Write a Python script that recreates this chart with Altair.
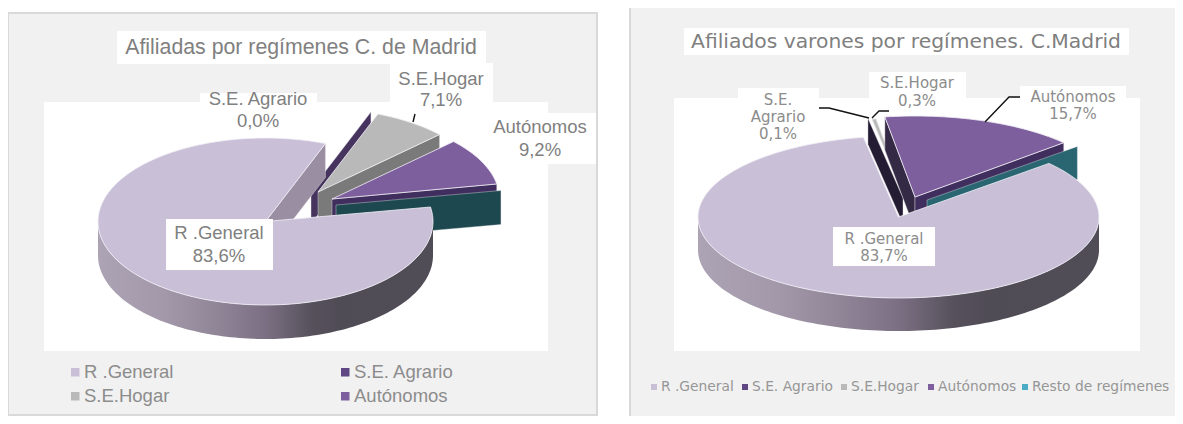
import math
import altair as alt

CATEGORIES = ["R .General", "S.E. Agrario", "S.E.Hogar", "Autónomos", "Resto de regímenes"]
PCT_AFILIADAS = [83.6, 0.0, 7.1, 9.2, 0.1]
PCT_VARONES = [83.7, 0.1, 0.3, 15.7, 0.2]
TITLE_L = "Afiliadas por regímenes C. de Madrid"
TITLE_R = "Afiliados varones por regímenes. C.Madrid"

OX, OY = 8, 8
W, H = 1167, 408
PROJ = dict(type="identity", scale=1, translate=[-OX, -OY])
GREY = "#808080"

layers = []


def shape(geometry, fill=None, stroke=None, sw=0.8):
    kw = {}
    if fill is not None:
        kw["fill"] = fill
    else:
        kw["filled"] = False
    if stroke is not None:
        kw["stroke"] = stroke
        kw["strokeWidth"] = sw
    c = alt.Chart(alt.Data(values=[{"type": "Feature", "properties": {}, "geometry": geometry}])).mark_geoshape(**kw).project(**PROJ)
    layers.append(c)


def poly(points, fill, stroke=None, sw=0.8):
    pts = [list(p) for p in points] + [list(points[0])]
    shape({"type": "Polygon", "coordinates": [pts]}, fill, stroke, sw)


def line(points, color="#111111", sw=1.4):
    shape({"type": "LineString", "coordinates": [list(p) for p in points]}, None, color, sw)


def rect(x0, y0, x1, y1, fill, stroke=None, sw=2):
    kw = {"fill": fill}
    if stroke:
        kw.update(stroke=stroke, strokeWidth=sw)
    layers.append(alt.Chart(alt.Data(values=[{"a": 1}])).mark_rect(**kw).encode(
        x=alt.value(x0 - OX), x2=alt.value(x1 - OX), y=alt.value(y0 - OY), y2=alt.value(y1 - OY)))


def text(lines, cx, ys, size, color=GREY, font="Liberation Sans", align="center"):
    for s, y in zip(lines, ys):
        layers.append(alt.Chart(alt.Data(values=[{"t": s}])).mark_text(
            font=font, fontSize=size, color=color, align=align, baseline="middle").encode(
            x=alt.value(cx - OX), y=alt.value(y - OY), text="t:N"))


def rim(apex, rx, ry, t):
    r = math.radians(t)
    return (apex[0] + rx * math.sin(r), apex[1] - ry * math.cos(r))


def arc(apex, rx, ry, t0, t1):
    n = max(2, int(abs(t1 - t0) / 1.5) + 1)
    return [rim(apex, rx, ry, t0 + (t1 - t0) * i / (n - 1)) for i in range(n)]


def top(apex, rx, ry, t0, t1, fill, stroke="#f2f0f6"):
    poly([apex] + arc(apex, rx, ry, t0, t1), fill, stroke)


def face(apex, rx, ry, t, d, fill):
    p = rim(apex, rx, ry, t)
    poly([apex, p, (p[0], p[1] + d), (apex[0], apex[1] + d)], fill, "#e8e6ec", 0.4)


def wall(apex, rx, ry, d, fill):
    a = arc(apex, rx, ry, 90, 270)
    poly(a + [(x, y + d) for x, y in reversed(a)], fill)


def angles(values, start):
    out, t = [], start
    for v in values:
        out.append((t, t + v * 3.6))
        t += v * 3.6
    return out


def pct(v):
    return f"{v:.1f}".replace(".", ",") + "%"


def gradient():
    stops = [(0, "#aca3b4"), (0.2, "#a298aa"), (0.36, "#8f8597"), (0.5, "#7b7083"),
             (0.64, "#56505b"), (0.72, "#504c56"), (1, "#514d57")]
    return {"gradient": "linear", "x1": 0, "y1": 0, "x2": 1, "y2": 0,
            "stops": [{"offset": o, "color": c} for o, c in stops]}


LAV, LAV_EDGE = "#c9c0d8", "#9a8fa2"
HOG, HOG_SIDE = "#b9b9b9", "#7a7a7a"
AUT, AUT_SIDE, AUT_SIDE2 = "#7e5f9e", "#402f5e", "#352a45"
AGR_L, AGR_R = "#46345f", "#241c33"
TEAL_L, TEAL_R = "#1d4850", "#2a6672"

# ---------- panels ----------
rect(8, 13, 597, 415, "#f1f1f1", "#d9d9d9")
rect(630, 8, 1175, 416, "#f1f1f1")
rect(629, 8, 631, 416, "#d9d9d9")
rect(44, 102, 548, 351, "#ffffff")
rect(674, 98, 1140, 351, "#ffffff")

# boxes
rect(117, 31, 486, 64, "#ffffff")
rect(200, 93, 317, 132, "#ffffff")
rect(390, 63, 493, 110, "#ffffff")
rect(488, 113, 596, 164, "#ffffff")
rect(684, 28, 1129, 55, "#ffffff")
rect(869, 72, 966, 100, "#ffffff")
rect(738, 88, 819, 140, "#ffffff")
rect(1020, 86, 1126, 125, "#ffffff")

# ---------- left pie ----------
RX, RY, D = 167.5, 83.5, 34
C = (265.5, 221.5)
a = angles(PCT_AFILIADAS, 80)
A_AGR, A_HOG, A_AUT, A_RES = (311, 190), (318, 192), (332, 199), (336, 205)
face(A_AGR, RX, RY, a[1][1], D, AGR_L)
face(A_HOG, RX, RY, a[2][1], D, HOG_SIDE)
top(A_HOG, RX, RY, a[2][0], a[2][1], HOG)
face(A_AUT, RX, RY, a[3][1], D, AUT_SIDE)
top(A_AUT, RX, RY, a[3][0], a[3][1], AUT)
face(A_RES, RX, RY, a[4][1], D, TEAL_L)
face(C, RX, RY, a[0][1], D, LAV_EDGE)
wall(C, RX, RY, D, gradient())
top(C, RX, RY, a[0][0], a[0][1], LAV)
line([(413, 122), (415, 114)])

# ---------- right pie ----------
RX2, RY2, D2 = 200.5, 81, 33
C2 = (898.5, 217)
b = angles(PCT_VARONES, 48.6)
B_AGR, B_HOG, B_AUT, B_RES = (903, 198), (906, 199), (915, 197), (927, 200)
face(B_AGR, RX2, RY2, b[1][0], 26, AGR_R)
top(B_HOG, RX2, RY2, b[2][0], b[2][1], HOG, "#dddddd")
face(B_AUT, RX2, RY2, b[3][0], D2, AUT_SIDE2)
face(B_AUT, RX2, RY2, b[3][1], D2, AUT_SIDE)
top(B_AUT, RX2, RY2, b[3][0], b[3][1], AUT)
face(B_RES, RX2, RY2, b[4][1], D2, TEAL_R)
wall(C2, RX2, RY2, D2, gradient())
top(C2, RX2, RY2, b[0][0], b[0][1], LAV)
line([(819, 108), (829, 108), (869, 118)])
line([(872, 118), (879, 111), (889, 111)])
line([(1020, 97), (1009, 97), (985, 122)])

rect(166, 219, 273, 270, "#ffffff")
rect(833, 227, 935, 266, "#ffffff")

# ---------- text left ----------
F1 = 18.5
text([TITLE_L], 301, [48], 21.3)
text([CATEGORIES[1], pct(PCT_AFILIADAS[1])], 258, [99, 121], F1)
text([CATEGORIES[2], pct(PCT_AFILIADAS[2])], 441, [79, 100], F1)
text([CATEGORIES[3], pct(PCT_AFILIADAS[3])], 540, [127, 150], F1)
text([CATEGORIES[0], pct(PCT_AFILIADAS[0])], 219, [233, 256], F1)

# legends left
for i, (sx, sy, col) in zip([0, 2, 1, 3], [(71, 368, LAV), (71, 392, HOG), (341, 368, "#5f4784"), (341, 392, AUT)]):
    rect(sx, sy, sx + 8.5, sy + 8.5, col)
    text([CATEGORIES[i]], sx + 13, [sy + 4], F1, "#8c8c8c", align="left")

# ---------- text right ----------
RF = "DejaVu Sans"
F2 = 15
text([TITLE_R], 906, [42], 20.3, "#7f7f7f", RF)
text([CATEGORIES[2], pct(PCT_VARONES[2])], 917, [83, 101], F2, "#8c8c8c", RF)
text(["S.E.", "Agrario", pct(PCT_VARONES[1])], 778, [100, 117, 134], F2, "#8c8c8c", RF)
text([CATEGORIES[3], pct(PCT_VARONES[3])], 1073, [97, 114], F2, "#8c8c8c", RF)
text([CATEGORIES[0], pct(PCT_VARONES[0])], 884, [239, 256], F2, "#8c8c8c", RF)

for i, sx, col in zip(range(5), [651, 742, 841, 928, 1022], [LAV, "#5f4784", HOG, AUT, "#4bacc6"]):
    rect(sx, 384, sx + 6, 390, col)
    text([CATEGORIES[i]], sx + 10, [387], 13.8, "#969696", RF, align="left")

chart = alt.layer(*layers).properties(width=W, height=H, padding=0, background="#ffffff",
                                      autosize=alt.AutoSizeParams(type="none")).configure_view(stroke=None)
chart.save("out.html", embed_options={"renderer": "svg", "actions": False})
